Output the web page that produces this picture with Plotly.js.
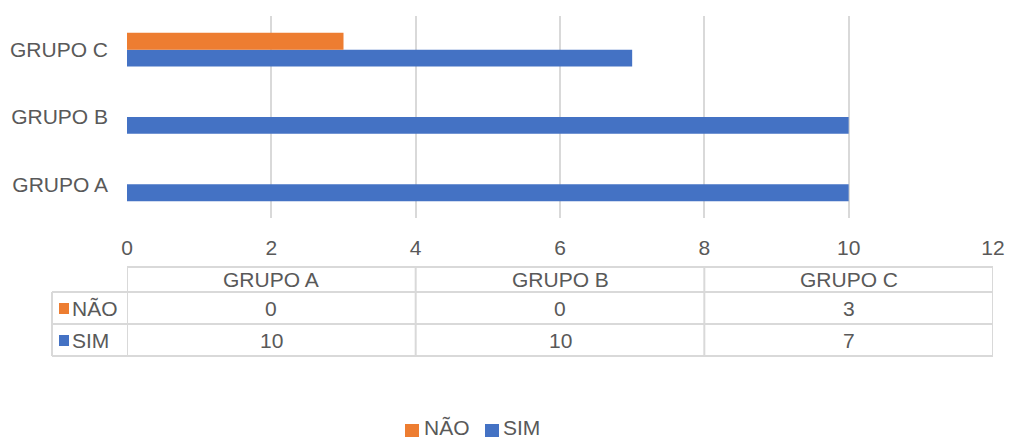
<!DOCTYPE html>
<html>
<head>
<meta charset="utf-8">
<script src="https://cdn.plot.ly/plotly-3.0.1.min.js"></script>
<style>
  html, body { margin: 0; padding: 0; background: #ffffff; }
  #chart { width: 1009px; height: 440px; }
</style>
</head>
<body>
<div id="chart"></div>
<script>
// Respostas por grupo
const categories = ['GRUPO A', 'GRUPO B', 'GRUPO C'];
const seriesNames = ['NÃO', 'SIM'];
const naoValues = [0, 0, 3];
const simValues = [10, 10, 7];
const seriesColors = ['#ED7D31', '#4472C4'];
const xTicks = [0, 2, 4, 6, 8, 10, 12];

const W = 1009, H = 440;
const M = { l: 127, r: 16, t: 16, b: 222 };
const plotW = W - M.l - M.r;
const plotH = H - M.t - M.b;
const xMax = xTicks[xTicks.length - 1];

// pixel -> paper coordinate helpers
const py = p => (H - M.b - p) / plotH;
const px = p => (p - M.l) / plotW;

const textColor = '#595959';
const lineColor = '#d9d9d9';
const font = { family: 'Liberation Sans, Arial, sans-serif', size: 21, color: textColor };

const allValues = [naoValues, simValues];

// SIM first so that NÃO sits above it inside each group
const traces = [1, 0].map(i => ({
  type: 'bar',
  orientation: 'h',
  name: seriesNames[i],
  y: categories,
  x: allValues[i],
  marker: { color: seriesColors[i] },
  showlegend: false,
  hoverinfo: 'x+name'
}));

const shapes = [];
const annotations = [];
const lineStyle = { color: lineColor, width: 2 };

// data table under the axis
const rowTop = [267, 292, 324, 356];
const colW = xMax / categories.length;
// horizontal rules
shapes.push({ type: 'line', xref: 'paper', yref: 'paper', x0: 0, x1: 1, y0: py(rowTop[0]), y1: py(rowTop[0]), line: lineStyle });
for (let r = 1; r < rowTop.length; r++) {
  shapes.push({ type: 'line', xref: 'paper', yref: 'paper', x0: px(52), x1: 1, y0: py(rowTop[r]), y1: py(rowTop[r]), line: lineStyle });
}
// vertical rules
shapes.push({ type: 'line', xref: 'paper', yref: 'paper', x0: px(52), x1: px(52), y0: py(rowTop[1]), y1: py(rowTop[3]), line: lineStyle });
for (let c = 0; c <= categories.length; c++) {
  shapes.push({ type: 'line', xref: 'x', yref: 'paper', x0: c * colW, x1: c * colW, y0: py(rowTop[0]), y1: py(rowTop[3]), line: lineStyle });
}
// header and values
categories.forEach((cat, c) => {
  const xc = c * colW + colW / 2;
  annotations.push({ xref: 'x', yref: 'paper', x: xc, y: py((rowTop[0] + rowTop[1]) / 2), text: cat, showarrow: false, font: font, yanchor: 'middle' });
  seriesNames.forEach((s, r) => {
    annotations.push({ xref: 'x', yref: 'paper', x: xc, y: py((rowTop[r + 1] + rowTop[r + 2]) / 2), text: String(allValues[r][c]), showarrow: false, font: font, yanchor: 'middle' });
  });
});
// row labels with colour keys
seriesNames.forEach((s, r) => {
  const yc = (rowTop[r + 1] + rowTop[r + 2]) / 2;
  shapes.push({ type: 'rect', xref: 'paper', yref: 'paper', x0: px(59), x1: px(69), y0: py(yc - 5), y1: py(yc + 6), fillcolor: seriesColors[r], line: { width: 0 } });
  annotations.push({ xref: 'paper', yref: 'paper', x: px(70), y: py(yc), text: s, showarrow: false, font: font, xanchor: 'left', yanchor: 'middle' });
});

// legend at the bottom
const legendItems = [
  { sq: 405, tx: 423 },
  { sq: 485, tx: 502 }
];
seriesNames.forEach((s, i) => {
  const it = legendItems[i];
  shapes.push({ type: 'rect', xref: 'paper', yref: 'paper', x0: px(it.sq), x1: px(it.sq + 14), y0: py(424), y1: py(437), fillcolor: seriesColors[i], line: { width: 0 } });
  annotations.push({ xref: 'paper', yref: 'paper', x: px(it.tx), y: py(427), text: s, showarrow: false, font: font, xanchor: 'left', yanchor: 'middle', borderpad: 0 });
});

const layout = {
  width: W,
  height: H,
  margin: M,
  paper_bgcolor: '#ffffff',
  plot_bgcolor: '#ffffff',
  barmode: 'group',
  bargap: 0.5,
  bargroupgap: 0,
  font: font,
  xaxis: {
    range: [0, xMax],
    tickvals: xTicks,
    ticktext: xTicks.map(String),
    showgrid: true,
    gridcolor: lineColor,
    gridwidth: 2,
    zeroline: false,
    showline: false,
    ticks: '',
    ticklabelstandoff: 15,
    tickfont: font,
    fixedrange: true
  },
  yaxis: {
    categoryorder: 'array',
    categoryarray: categories,
    range: [-0.5, categories.length - 0.5],
    showgrid: false,
    zeroline: false,
    showline: false,
    ticks: '',
    ticklabelstandoff: 18,
    tickfont: font,
    fixedrange: true
  },
  shapes: shapes,
  annotations: annotations
};

Plotly.newPlot('chart', traces, layout, { displayModeBar: false, staticPlot: true });
</script>
</body>
</html>
